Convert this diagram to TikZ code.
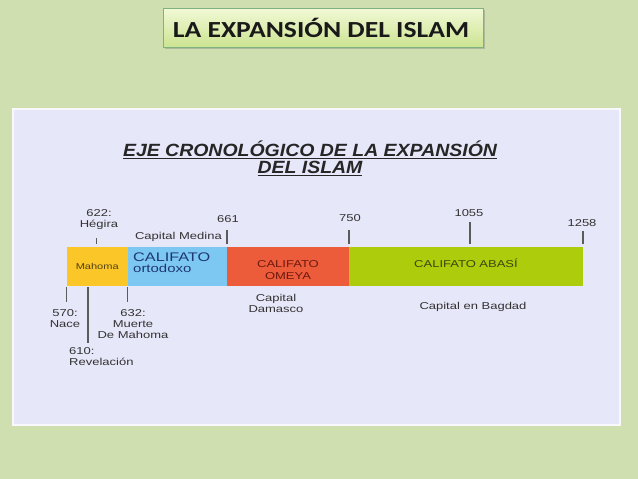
\documentclass[tikz,border=0pt]{standalone}
\usepackage{fontspec}
\setmainfont{Liberation Sans}
\newfontfamily\tlfont[FakeStretch=1.3]{Liberation Sans}
\newfontfamily\ejefont[FakeStretch=1.1]{Liberation Sans}
\newfontfamily\headfont[FakeStretch=1.2]{Carlito}
\usetikzlibrary{shadows,positioning}
\definecolor{bggreen}{RGB}{207,223,176}
\definecolor{panelblue}{RGB}{231,231,250}
\definecolor{mahomacol}{RGB}{250,198,40}
\definecolor{ortocol}{RGB}{125,200,242}
\definecolor{omeyacol}{RGB}{236,92,58}
\definecolor{abasicol}{RGB}{172,204,12}
\definecolor{labelgray}{RGB}{50,50,50}
\definecolor{ortotext}{RGB}{30,55,115}
\definecolor{omeyatext}{RGB}{110,25,15}
\definecolor{abasitext}{RGB}{60,70,15}
\definecolor{mahomatext}{RGB}{80,65,20}

\begin{document}
\begin{tikzpicture}[
    x=1pt, y=-1pt,
    era/.style={minimum height=39pt, inner sep=0pt, outer sep=0pt},
    eratext/.style={inner sep=0pt, align=center, font=\tlfont\fontsize{10}{12}\selectfont},
    lbl/.style={font=\tlfont\fontsize{10}{11}\selectfont, text=labelgray, align=center, inner sep=0pt},
    tick/.style={draw=labelgray!80, line width=1.3pt},
]
\useasboundingbox (0,0) rectangle (638,479);
\fill[bggreen] (0,0) rectangle (638,479);
\draw[white!70!panelblue, line width=1.5pt, fill=panelblue] (13,109) rectangle (620,425);

% title box
\node[draw=green!40!black!50, line width=0.6pt, top color={rgb,255:red,242;green,249;blue,214}, bottom color={rgb,255:red,204;green,228;blue,146},
      minimum width=320pt, minimum height=39pt, drop shadow={shadow xshift=2pt, shadow yshift=-2pt, opacity=.4}] (title) at (323,27.5) {};
\node[font=\headfont\bfseries\fontsize{23}{25}\selectfont, text=black!90] (titletxt) at (321,27.5) {LA EXPANSIÓN DEL ISLAM};

% subtitle
\node[font=\ejefont\bfseries\itshape\fontsize{17.7}{17.5}\selectfont, text=black!85, align=center] (subtitle) at (310,158.5)
  {\underline{EJE CRONOLÓGICO DE LA EXPANSIÓN}\\\underline{DEL ISLAM}};

% eras
\node[era, fill=mahomacol, minimum width=60.5pt, anchor=north west] (mahoma) at (67,247) {};
\node[era, fill=ortocol, minimum width=99.5pt, right=0pt of mahoma] (ortodoxo) {};
\node[era, fill=omeyacol, minimum width=122pt, right=0pt of ortodoxo] (omeya) {};
\node[era, fill=abasicol, minimum width=234pt, right=0pt of omeya] (abasi) {};
\node[eratext, text=mahomatext, font=\tlfont\fontsize{8.5}{10}\selectfont] (mahomatxt) at (mahoma.center) {Mahoma};
\node[eratext, anchor=north west, align=left, text=ortotext, font=\tlfont\fontsize{12.5}{12}\selectfont] (ortotxt)
  at ([xshift=5.5pt, yshift=-6pt]ortodoxo.north west) {CALIFATO\\[-1pt]{\fontsize{11.5}{12}\selectfont ortodoxo}};
\node[eratext, text=omeyatext] (omeyatxt) at ([yshift=-3.5pt]omeya.center) {CALIFATO\\OMEYA};
\node[eratext, text=abasitext] (abasitxt) at ([yshift=3pt]abasi.center) {CALIFATO ABASÍ};

% ticks
\foreach \xx/\ya/\yb in {96.7/238/244, 227/230/244, 349/230/244, 470/222/244, 583/231/244, 66.7/287/302, 88/287/343, 127.7/287/302} {
  \draw[tick] (\xx,\ya) -- (\xx,\yb);
}

% labels
\node[lbl] (l622) at (99,220) {622:\\Hégira};
\node[lbl] (l661) at (228,219) {661};
\node[lbl, anchor=east] (medina) at (222,237) {Capital Medina};
\node[lbl] (l750) at (350,218) {750};
\node[lbl] (l1055) at (469,213) {1055};
\node[lbl] (l1258) at (582,223) {1258};
\node[lbl] (l570) at (65,319) {570:\\Nace};
\node[lbl] (l632) at (133,324) {632:\\Muerte\\De Mahoma};
\node[lbl, align=left, anchor=west] (l610) at (69,357) {610:\\Revelación};
\node[lbl] (damasco) at (276,303) {Capital\\Damasco};
\node[lbl] (bagdad) at (473,306.5) {Capital en Bagdad};
\end{tikzpicture}
\end{document}
